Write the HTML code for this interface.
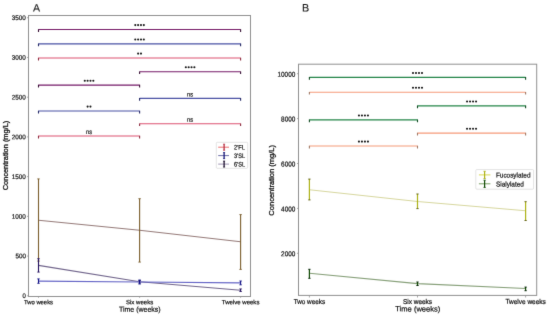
<!DOCTYPE html>
<html><head><meta charset="utf-8"><style>
html,body{margin:0;padding:0;background:#fff;}
svg{display:block;font-family:"Liberation Sans", sans-serif;will-change:transform;}
</style></head><body>
<svg width="550" height="315" viewBox="0 0 550 315">
<defs><filter id="soft" x="0" y="0" width="550" height="315" filterUnits="userSpaceOnUse" color-interpolation-filters="sRGB"><feConvolveMatrix order="3" kernelMatrix="0.01 0.07 0.01 0.07 0.68 0.07 0.01 0.07 0.01" divisor="1" edgeMode="duplicate"/></filter></defs>
<rect width="550" height="315" fill="#fff"/>
<g filter="url(#soft)">
<rect width="550" height="315" fill="#fff"/>
<rect x="28.5" y="15.5" width="222.0" height="281.0" fill="none" stroke="#909090" stroke-width="1"/>
<line x1="27.0" y1="295.8" x2="28.5" y2="295.8" stroke="#909090" stroke-width="0.8" />
<text x="25.9" y="298.10" font-size="6.6" text-anchor="end" fill="#141414" stroke="#141414" stroke-width="0.22" textLength="3.3000000000000003" lengthAdjust="spacingAndGlyphs" transform="rotate(0.05 25.9 298.10)" >0</text>
<line x1="27.0" y1="256.075" x2="28.5" y2="256.075" stroke="#909090" stroke-width="0.8" />
<text x="25.9" y="258.38" font-size="6.6" text-anchor="end" fill="#141414" stroke="#141414" stroke-width="0.22" textLength="10.5" lengthAdjust="spacingAndGlyphs" transform="rotate(0.05 25.9 258.38)" >500</text>
<line x1="27.0" y1="216.35000000000002" x2="28.5" y2="216.35000000000002" stroke="#909090" stroke-width="0.8" />
<text x="25.9" y="218.65" font-size="6.6" text-anchor="end" fill="#141414" stroke="#141414" stroke-width="0.22" textLength="14.1" lengthAdjust="spacingAndGlyphs" transform="rotate(0.05 25.9 218.65)" >1000</text>
<line x1="27.0" y1="176.625" x2="28.5" y2="176.625" stroke="#909090" stroke-width="0.8" />
<text x="25.9" y="178.93" font-size="6.6" text-anchor="end" fill="#141414" stroke="#141414" stroke-width="0.22" textLength="14.1" lengthAdjust="spacingAndGlyphs" transform="rotate(0.05 25.9 178.93)" >1500</text>
<line x1="27.0" y1="136.9" x2="28.5" y2="136.9" stroke="#909090" stroke-width="0.8" />
<text x="25.9" y="139.20" font-size="6.6" text-anchor="end" fill="#141414" stroke="#141414" stroke-width="0.22" textLength="14.1" lengthAdjust="spacingAndGlyphs" transform="rotate(0.05 25.9 139.20)" >2000</text>
<line x1="27.0" y1="97.17499999999998" x2="28.5" y2="97.17499999999998" stroke="#909090" stroke-width="0.8" />
<text x="25.9" y="99.47" font-size="6.6" text-anchor="end" fill="#141414" stroke="#141414" stroke-width="0.22" textLength="14.1" lengthAdjust="spacingAndGlyphs" transform="rotate(0.05 25.9 99.47)" >2500</text>
<line x1="27.0" y1="57.44999999999999" x2="28.5" y2="57.44999999999999" stroke="#909090" stroke-width="0.8" />
<text x="25.9" y="59.75" font-size="6.6" text-anchor="end" fill="#141414" stroke="#141414" stroke-width="0.22" textLength="14.1" lengthAdjust="spacingAndGlyphs" transform="rotate(0.05 25.9 59.75)" >3000</text>
<line x1="27.0" y1="17.724999999999966" x2="28.5" y2="17.724999999999966" stroke="#909090" stroke-width="0.8" />
<text x="25.9" y="20.02" font-size="6.6" text-anchor="end" fill="#141414" stroke="#141414" stroke-width="0.22" textLength="14.1" lengthAdjust="spacingAndGlyphs" transform="rotate(0.05 25.9 20.02)" >3500</text>
<line x1="38.5" y1="296.5" x2="38.5" y2="297.8" stroke="#909090" stroke-width="0.8" />
<text x="38.5" y="304.35" font-size="6.2" text-anchor="middle" fill="#141414" stroke="#141414" stroke-width="0.22" textLength="29" lengthAdjust="spacingAndGlyphs" transform="rotate(0.05 38.5 304.35)" >Two weeks</text>
<line x1="139.6" y1="296.5" x2="139.6" y2="297.8" stroke="#909090" stroke-width="0.8" />
<text x="139.6" y="304.35" font-size="6.2" text-anchor="middle" fill="#141414" stroke="#141414" stroke-width="0.22" textLength="27.2" lengthAdjust="spacingAndGlyphs" transform="rotate(0.05 139.6 304.35)" >Six weeks</text>
<line x1="240.6" y1="296.5" x2="240.6" y2="297.8" stroke="#909090" stroke-width="0.8" />
<text x="240.6" y="304.35" font-size="6.2" text-anchor="middle" fill="#141414" stroke="#141414" stroke-width="0.22" textLength="37.6" lengthAdjust="spacingAndGlyphs" transform="rotate(0.05 240.6 304.35)" >Twelve weeks</text>
<text x="139.8" y="311.85" font-size="7.2" text-anchor="middle" fill="#141414" stroke="#141414" stroke-width="0.22" textLength="41.6" lengthAdjust="spacingAndGlyphs" transform="rotate(0.05 139.8 311.85)" >Time (weeks)</text>
<text x="0" y="0" font-size="7.5" text-anchor="middle" fill="#141414" stroke="#141414" stroke-width="0.3" textLength="69.6" lengthAdjust="spacingAndGlyphs" transform="translate(8.3,155.5) rotate(-90)">Concentration (mg/L)</text>
<text x="36.6" y="11.40" font-size="10.6" text-anchor="middle" fill="#1a1a1a" stroke="#1a1a1a" stroke-width="0.22" transform="rotate(0.05 36.6 11.40)" stroke-opacity="0.5">A</text>
<path d="M38.5,29.5 L240.6,29.5" fill="none" stroke="#751967" stroke-width="1.15"/>
<path d="M38.5,29.2 L38.5,31.9 M240.6,29.2 L240.6,31.9" fill="none" stroke="#360f33" stroke-width="1.1"/>
<circle cx="135.28" cy="25.10" r="1.05" fill="#161616"/>
<circle cx="138.12" cy="25.10" r="1.05" fill="#161616"/>
<circle cx="140.98" cy="25.10" r="1.05" fill="#161616"/>
<circle cx="143.83" cy="25.10" r="1.05" fill="#161616"/>
<path d="M38.5,43.9 L240.6,43.9" fill="none" stroke="#4951a4" stroke-width="1.15"/>
<path d="M38.5,43.6 L38.5,46.3 M240.6,43.6 L240.6,46.3" fill="none" stroke="#222764" stroke-width="1.1"/>
<circle cx="135.28" cy="39.50" r="1.05" fill="#161616"/>
<circle cx="138.12" cy="39.50" r="1.05" fill="#161616"/>
<circle cx="140.98" cy="39.50" r="1.05" fill="#161616"/>
<circle cx="143.83" cy="39.50" r="1.05" fill="#161616"/>
<path d="M38.5,58.0 L240.6,58.0" fill="none" stroke="#dc5170" stroke-width="1.15"/>
<path d="M38.5,57.7 L38.5,60.4 M240.6,57.7 L240.6,60.4" fill="none" stroke="#8b2a3d" stroke-width="1.1"/>
<circle cx="138.12" cy="53.60" r="1.05" fill="#161616"/>
<circle cx="140.98" cy="53.60" r="1.05" fill="#161616"/>
<path d="M139.6,71.7 L240.6,71.7" fill="none" stroke="#751967" stroke-width="1.15"/>
<path d="M139.6,71.4 L139.6,74.10000000000001 M240.6,71.4 L240.6,74.10000000000001" fill="none" stroke="#360f33" stroke-width="1.1"/>
<circle cx="185.82" cy="67.30" r="1.05" fill="#161616"/>
<circle cx="188.67" cy="67.30" r="1.05" fill="#161616"/>
<circle cx="191.53" cy="67.30" r="1.05" fill="#161616"/>
<circle cx="194.38" cy="67.30" r="1.05" fill="#161616"/>
<path d="M38.5,85.1 L139.6,85.1" fill="none" stroke="#751967" stroke-width="1.15"/>
<path d="M38.5,84.8 L38.5,87.5 M139.6,84.8 L139.6,87.5" fill="none" stroke="#360f33" stroke-width="1.1"/>
<circle cx="84.77" cy="80.70" r="1.05" fill="#161616"/>
<circle cx="87.62" cy="80.70" r="1.05" fill="#161616"/>
<circle cx="90.47" cy="80.70" r="1.05" fill="#161616"/>
<circle cx="93.33" cy="80.70" r="1.05" fill="#161616"/>
<path d="M139.6,98.4 L240.6,98.4" fill="none" stroke="#4951a4" stroke-width="1.15"/>
<path d="M139.6,98.10000000000001 L139.6,100.80000000000001 M240.6,98.10000000000001 L240.6,100.80000000000001" fill="none" stroke="#222764" stroke-width="1.1"/>
<text x="190.1" y="96.40" font-size="6.4" text-anchor="middle" fill="#202020" stroke="#202020" stroke-width="0.22" textLength="6.0" lengthAdjust="spacingAndGlyphs" transform="rotate(0.05 190.1 96.40)" >ns</text>
<path d="M38.5,111.0 L139.6,111.0" fill="none" stroke="#4951a4" stroke-width="1.15"/>
<path d="M38.5,110.7 L38.5,113.4 M139.6,110.7 L139.6,113.4" fill="none" stroke="#222764" stroke-width="1.1"/>
<circle cx="87.62" cy="106.60" r="1.05" fill="#161616"/>
<circle cx="90.47" cy="106.60" r="1.05" fill="#161616"/>
<path d="M139.6,123.7 L240.6,123.7" fill="none" stroke="#dc5170" stroke-width="1.15"/>
<path d="M139.6,123.4 L139.6,126.10000000000001 M240.6,123.4 L240.6,126.10000000000001" fill="none" stroke="#8b2a3d" stroke-width="1.1"/>
<text x="190.1" y="121.70" font-size="6.4" text-anchor="middle" fill="#202020" stroke="#202020" stroke-width="0.22" textLength="6.0" lengthAdjust="spacingAndGlyphs" transform="rotate(0.05 190.1 121.70)" >ns</text>
<path d="M38.5,136.0 L139.6,136.0" fill="none" stroke="#dc5170" stroke-width="1.15"/>
<path d="M38.5,135.7 L38.5,138.4 M139.6,135.7 L139.6,138.4" fill="none" stroke="#8b2a3d" stroke-width="1.1"/>
<text x="89.05" y="134.00" font-size="6.4" text-anchor="middle" fill="#202020" stroke="#202020" stroke-width="0.22" textLength="6.0" lengthAdjust="spacingAndGlyphs" transform="rotate(0.05 89.05 134.00)" >ns</text>
<path d="M38.5,220.2 L139.6,230.3 L240.6,241.8" fill="none" stroke="#957a78" stroke-width="1.1"/>
<line x1="38.5" y1="178.9" x2="38.5" y2="261.1" stroke="#7a5d2c" stroke-width="1.1" />
<line x1="37.3" y1="178.9" x2="39.7" y2="178.9" stroke="#7a5d2c" stroke-width="0.9" />
<line x1="37.3" y1="261.1" x2="39.7" y2="261.1" stroke="#7a5d2c" stroke-width="0.9" />
<line x1="139.6" y1="198.7" x2="139.6" y2="262.1" stroke="#7a5d2c" stroke-width="1.1" />
<line x1="138.4" y1="198.7" x2="140.79999999999998" y2="198.7" stroke="#7a5d2c" stroke-width="0.9" />
<line x1="138.4" y1="262.1" x2="140.79999999999998" y2="262.1" stroke="#7a5d2c" stroke-width="0.9" />
<line x1="240.6" y1="214.6" x2="240.6" y2="269.4" stroke="#7a5d2c" stroke-width="1.1" />
<line x1="239.4" y1="214.6" x2="241.79999999999998" y2="214.6" stroke="#7a5d2c" stroke-width="0.9" />
<line x1="239.4" y1="269.4" x2="241.79999999999998" y2="269.4" stroke="#7a5d2c" stroke-width="0.9" />
<path d="M38.5,265.4 L139.6,281.7 L240.6,290.2" fill="none" stroke="#70648b" stroke-width="1.1"/>
<line x1="38.5" y1="258.7" x2="38.5" y2="272.1" stroke="#220f5d" stroke-width="1.1" />
<line x1="37.3" y1="258.7" x2="39.7" y2="258.7" stroke="#220f5d" stroke-width="0.9" />
<line x1="37.3" y1="272.1" x2="39.7" y2="272.1" stroke="#220f5d" stroke-width="0.9" />
<line x1="139.6" y1="280.5" x2="139.6" y2="283.0" stroke="#220f5d" stroke-width="1.1" />
<line x1="138.4" y1="280.5" x2="140.79999999999998" y2="280.5" stroke="#220f5d" stroke-width="0.9" />
<line x1="138.4" y1="283.0" x2="140.79999999999998" y2="283.0" stroke="#220f5d" stroke-width="0.9" />
<line x1="240.6" y1="288.9" x2="240.6" y2="291.5" stroke="#220f5d" stroke-width="1.1" />
<line x1="239.4" y1="288.9" x2="241.79999999999998" y2="288.9" stroke="#220f5d" stroke-width="0.9" />
<line x1="239.4" y1="291.5" x2="241.79999999999998" y2="291.5" stroke="#220f5d" stroke-width="0.9" />
<path d="M38.5,281.1 L139.6,282.0 L240.6,282.9" fill="none" stroke="#6464c6" stroke-width="1.1"/>
<line x1="38.5" y1="278.9" x2="38.5" y2="283.3" stroke="#0f0f84" stroke-width="1.1" />
<line x1="37.3" y1="278.9" x2="39.7" y2="278.9" stroke="#0f0f84" stroke-width="0.9" />
<line x1="37.3" y1="283.3" x2="39.7" y2="283.3" stroke="#0f0f84" stroke-width="0.9" />
<line x1="139.6" y1="280.0" x2="139.6" y2="284.0" stroke="#0f0f84" stroke-width="1.1" />
<line x1="138.4" y1="280.0" x2="140.79999999999998" y2="280.0" stroke="#0f0f84" stroke-width="0.9" />
<line x1="138.4" y1="284.0" x2="140.79999999999998" y2="284.0" stroke="#0f0f84" stroke-width="0.9" />
<line x1="240.6" y1="281.0" x2="240.6" y2="284.8" stroke="#0f0f84" stroke-width="1.1" />
<line x1="239.4" y1="281.0" x2="241.79999999999998" y2="281.0" stroke="#0f0f84" stroke-width="0.9" />
<line x1="239.4" y1="284.8" x2="241.79999999999998" y2="284.8" stroke="#0f0f84" stroke-width="0.9" />
<rect x="216.3" y="142.3" width="31.4" height="26" rx="1" fill="#fff" fill-opacity="0.8" stroke="#d0d0d0" stroke-width="0.6"/>
<line x1="218.2" y1="147.2" x2="229.0" y2="147.2" stroke="#ed6e6e" stroke-width="1.0" />
<line x1="224.1" y1="144.2" x2="224.1" y2="150.2" stroke="#b22236" stroke-width="1.2" />
<line x1="223.1" y1="144.2" x2="225.1" y2="144.2" stroke="#b22236" stroke-width="0.8" />
<line x1="223.1" y1="150.2" x2="225.1" y2="150.2" stroke="#b22236" stroke-width="0.8" />
<text x="234.0" y="149.60" font-size="6.5" text-anchor="start" fill="#141414" stroke="#141414" stroke-width="0.22" textLength="11.0" lengthAdjust="spacingAndGlyphs" transform="rotate(0.05 234.0 149.60)" >2'FL</text>
<line x1="218.2" y1="155.6" x2="229.0" y2="155.6" stroke="#7070a8" stroke-width="1.0" />
<line x1="224.1" y1="152.6" x2="224.1" y2="158.6" stroke="#070770" stroke-width="1.2" />
<line x1="223.1" y1="152.6" x2="225.1" y2="152.6" stroke="#070770" stroke-width="0.8" />
<line x1="223.1" y1="158.6" x2="225.1" y2="158.6" stroke="#070770" stroke-width="0.8" />
<text x="234.0" y="158.00" font-size="6.5" text-anchor="start" fill="#141414" stroke="#141414" stroke-width="0.22" textLength="11.0" lengthAdjust="spacingAndGlyphs" transform="rotate(0.05 234.0 158.00)" >3'SL</text>
<line x1="218.2" y1="164.1" x2="229.0" y2="164.1" stroke="#9f95b2" stroke-width="1.0" />
<line x1="224.1" y1="161.1" x2="224.1" y2="167.1" stroke="#0f0022" stroke-width="1.2" />
<line x1="223.1" y1="161.1" x2="225.1" y2="161.1" stroke="#0f0022" stroke-width="0.8" />
<line x1="223.1" y1="167.1" x2="225.1" y2="167.1" stroke="#0f0022" stroke-width="0.8" />
<text x="234.0" y="166.50" font-size="6.5" text-anchor="start" fill="#141414" stroke="#141414" stroke-width="0.22" textLength="11.0" lengthAdjust="spacingAndGlyphs" transform="rotate(0.05 234.0 166.50)" >6'SL</text>
<rect x="298.5" y="64.2" width="238.20000000000005" height="231.2" fill="none" stroke="#909090" stroke-width="1"/>
<line x1="297.0" y1="253.29999999999998" x2="298.5" y2="253.29999999999998" stroke="#909090" stroke-width="0.8" />
<text x="295.4" y="256.30" font-size="7.0" text-anchor="end" fill="#141414" stroke="#141414" stroke-width="0.22" textLength="14.299999999999999" lengthAdjust="spacingAndGlyphs" transform="rotate(0.05 295.4 256.30)" >2000</text>
<line x1="297.0" y1="208.39999999999998" x2="298.5" y2="208.39999999999998" stroke="#909090" stroke-width="0.8" />
<text x="295.4" y="211.40" font-size="7.0" text-anchor="end" fill="#141414" stroke="#141414" stroke-width="0.22" textLength="14.299999999999999" lengthAdjust="spacingAndGlyphs" transform="rotate(0.05 295.4 211.40)" >4000</text>
<line x1="297.0" y1="163.49999999999997" x2="298.5" y2="163.49999999999997" stroke="#909090" stroke-width="0.8" />
<text x="295.4" y="166.50" font-size="7.0" text-anchor="end" fill="#141414" stroke="#141414" stroke-width="0.22" textLength="14.299999999999999" lengthAdjust="spacingAndGlyphs" transform="rotate(0.05 295.4 166.50)" >6000</text>
<line x1="297.0" y1="118.59999999999997" x2="298.5" y2="118.59999999999997" stroke="#909090" stroke-width="0.8" />
<text x="295.4" y="121.60" font-size="7.0" text-anchor="end" fill="#141414" stroke="#141414" stroke-width="0.22" textLength="14.299999999999999" lengthAdjust="spacingAndGlyphs" transform="rotate(0.05 295.4 121.60)" >8000</text>
<line x1="297.0" y1="73.69999999999999" x2="298.5" y2="73.69999999999999" stroke="#909090" stroke-width="0.8" />
<text x="295.4" y="76.70" font-size="7.0" text-anchor="end" fill="#141414" stroke="#141414" stroke-width="0.22" textLength="17.95" lengthAdjust="spacingAndGlyphs" transform="rotate(0.05 295.4 76.70)" >10000</text>
<line x1="309.4" y1="295.5" x2="309.4" y2="297.5" stroke="#909090" stroke-width="0.8" />
<text x="309.4" y="303.90" font-size="7.0" text-anchor="middle" fill="#141414" stroke="#141414" stroke-width="0.22" textLength="31.5" lengthAdjust="spacingAndGlyphs" transform="rotate(0.05 309.4 303.90)" >Two weeks</text>
<line x1="417.5" y1="295.5" x2="417.5" y2="297.5" stroke="#909090" stroke-width="0.8" />
<text x="417.5" y="303.90" font-size="7.0" text-anchor="middle" fill="#141414" stroke="#141414" stroke-width="0.22" textLength="29.1" lengthAdjust="spacingAndGlyphs" transform="rotate(0.05 417.5 303.90)" >Six weeks</text>
<line x1="525.6" y1="295.5" x2="525.6" y2="297.5" stroke="#909090" stroke-width="0.8" />
<text x="525.6" y="303.90" font-size="7.0" text-anchor="middle" fill="#141414" stroke="#141414" stroke-width="0.22" textLength="40.4" lengthAdjust="spacingAndGlyphs" transform="rotate(0.05 525.6 303.90)" >Twelve weeks</text>
<text x="417.8" y="311.40" font-size="7.6" text-anchor="middle" fill="#141414" stroke="#141414" stroke-width="0.22" textLength="45" lengthAdjust="spacingAndGlyphs" transform="rotate(0.05 417.8 311.40)" >Time (weeks)</text>
<text x="0" y="0" font-size="7.6" text-anchor="middle" fill="#141414" stroke="#141414" stroke-width="0.3" textLength="70.7" lengthAdjust="spacingAndGlyphs" transform="translate(274.2,180.3) rotate(-90)">Concentration (mg/L)</text>
<text x="305.7" y="11.55" font-size="10.8" text-anchor="middle" fill="#1a1a1a" stroke="#1a1a1a" stroke-width="0.22" transform="rotate(0.05 305.7 11.55)" stroke-opacity="0.5">B</text>
<path d="M309.4,77.4 L525.6,77.4" fill="none" stroke="#228447" stroke-width="1.15"/>
<path d="M309.4,77.10000000000001 L309.4,79.80000000000001 M525.6,77.10000000000001 L525.6,79.80000000000001" fill="none" stroke="#0f4920" stroke-width="1.1"/>
<circle cx="413.00" cy="73.00" r="1.05" fill="#161616"/>
<circle cx="416.00" cy="73.00" r="1.05" fill="#161616"/>
<circle cx="419.00" cy="73.00" r="1.05" fill="#161616"/>
<circle cx="422.00" cy="73.00" r="1.05" fill="#161616"/>
<path d="M309.4,92.2 L525.6,92.2" fill="none" stroke="#f69a78" stroke-width="1.15"/>
<path d="M309.4,91.9 L309.4,94.60000000000001 M525.6,91.9 L525.6,94.60000000000001" fill="none" stroke="#9f7864" stroke-width="1.1"/>
<circle cx="413.00" cy="87.80" r="1.05" fill="#161616"/>
<circle cx="416.00" cy="87.80" r="1.05" fill="#161616"/>
<circle cx="419.00" cy="87.80" r="1.05" fill="#161616"/>
<circle cx="422.00" cy="87.80" r="1.05" fill="#161616"/>
<path d="M417.5,105.9 L525.6,105.9" fill="none" stroke="#228447" stroke-width="1.15"/>
<path d="M417.5,105.60000000000001 L417.5,108.30000000000001 M525.6,105.60000000000001 L525.6,108.30000000000001" fill="none" stroke="#0f4920" stroke-width="1.1"/>
<circle cx="467.05" cy="101.50" r="1.05" fill="#161616"/>
<circle cx="470.05" cy="101.50" r="1.05" fill="#161616"/>
<circle cx="473.05" cy="101.50" r="1.05" fill="#161616"/>
<circle cx="476.05" cy="101.50" r="1.05" fill="#161616"/>
<path d="M309.4,119.9 L417.5,119.9" fill="none" stroke="#228447" stroke-width="1.15"/>
<path d="M309.4,119.60000000000001 L309.4,122.30000000000001 M417.5,119.60000000000001 L417.5,122.30000000000001" fill="none" stroke="#0f4920" stroke-width="1.1"/>
<circle cx="358.95" cy="115.50" r="1.05" fill="#161616"/>
<circle cx="361.95" cy="115.50" r="1.05" fill="#161616"/>
<circle cx="364.95" cy="115.50" r="1.05" fill="#161616"/>
<circle cx="367.95" cy="115.50" r="1.05" fill="#161616"/>
<path d="M417.5,133.1 L525.6,133.1" fill="none" stroke="#f69a78" stroke-width="1.15"/>
<path d="M417.5,132.79999999999998 L417.5,135.5 M525.6,132.79999999999998 L525.6,135.5" fill="none" stroke="#9f7864" stroke-width="1.1"/>
<circle cx="467.05" cy="128.70" r="1.05" fill="#161616"/>
<circle cx="470.05" cy="128.70" r="1.05" fill="#161616"/>
<circle cx="473.05" cy="128.70" r="1.05" fill="#161616"/>
<circle cx="476.05" cy="128.70" r="1.05" fill="#161616"/>
<path d="M309.4,146.0 L417.5,146.0" fill="none" stroke="#f69a78" stroke-width="1.15"/>
<path d="M309.4,145.7 L309.4,148.4 M417.5,145.7 L417.5,148.4" fill="none" stroke="#9f7864" stroke-width="1.1"/>
<circle cx="358.95" cy="141.60" r="1.05" fill="#161616"/>
<circle cx="361.95" cy="141.60" r="1.05" fill="#161616"/>
<circle cx="364.95" cy="141.60" r="1.05" fill="#161616"/>
<circle cx="367.95" cy="141.60" r="1.05" fill="#161616"/>
<path d="M309.4,189.8 L417.5,201.5 L525.6,210.7" fill="none" stroke="#d7d79f" stroke-width="1.1"/>
<line x1="309.4" y1="179.1" x2="309.4" y2="199.9" stroke="#adb216" stroke-width="1.2" />
<line x1="308.29999999999995" y1="179.1" x2="310.5" y2="179.1" stroke="#646416" stroke-width="1.0" />
<line x1="308.29999999999995" y1="199.9" x2="310.5" y2="199.9" stroke="#646416" stroke-width="1.0" />
<line x1="417.5" y1="194.0" x2="417.5" y2="208.6" stroke="#adb216" stroke-width="1.2" />
<line x1="416.4" y1="194.0" x2="418.6" y2="194.0" stroke="#646416" stroke-width="1.0" />
<line x1="416.4" y1="208.6" x2="418.6" y2="208.6" stroke="#646416" stroke-width="1.0" />
<line x1="525.6" y1="201.7" x2="525.6" y2="220.5" stroke="#adb216" stroke-width="1.2" />
<line x1="524.5" y1="201.7" x2="526.7" y2="201.7" stroke="#646416" stroke-width="1.0" />
<line x1="524.5" y1="220.5" x2="526.7" y2="220.5" stroke="#646416" stroke-width="1.0" />
<path d="M309.4,273.3 L417.5,283.6 L525.6,288.5" fill="none" stroke="#869f78" stroke-width="1.1"/>
<line x1="309.4" y1="269.3" x2="309.4" y2="278.3" stroke="#0f4903" stroke-width="1.2" />
<line x1="308.29999999999995" y1="269.3" x2="310.5" y2="269.3" stroke="#002200" stroke-width="1.0" />
<line x1="308.29999999999995" y1="278.3" x2="310.5" y2="278.3" stroke="#002200" stroke-width="1.0" />
<line x1="417.5" y1="282.0" x2="417.5" y2="285.5" stroke="#0f4903" stroke-width="1.2" />
<line x1="416.4" y1="282.0" x2="418.6" y2="282.0" stroke="#002200" stroke-width="1.0" />
<line x1="416.4" y1="285.5" x2="418.6" y2="285.5" stroke="#002200" stroke-width="1.0" />
<line x1="525.6" y1="287.1" x2="525.6" y2="290.7" stroke="#0f4903" stroke-width="1.2" />
<line x1="524.5" y1="287.1" x2="526.7" y2="287.1" stroke="#002200" stroke-width="1.0" />
<line x1="524.5" y1="290.7" x2="526.7" y2="290.7" stroke="#002200" stroke-width="1.0" />
<rect x="475.8" y="169.6" width="57.8" height="19.6" rx="1" fill="#fff" fill-opacity="0.8" stroke="#d0d0d0" stroke-width="0.6"/>
<line x1="478.9" y1="174.9" x2="490.4" y2="174.9" stroke="#d9d951" stroke-width="1.0" />
<line x1="484.6" y1="171.3" x2="484.6" y2="178.5" stroke="#adb216" stroke-width="1.2" />
<line x1="483.5" y1="171.3" x2="485.7" y2="171.3" stroke="#adb216" stroke-width="0.9" />
<line x1="483.5" y1="178.5" x2="485.7" y2="178.5" stroke="#adb216" stroke-width="0.9" />
<text x="495.9" y="177.60" font-size="7.0" text-anchor="start" fill="#141414" stroke="#141414" stroke-width="0.22" textLength="34.6" lengthAdjust="spacingAndGlyphs" transform="rotate(0.05 495.9 177.60)" >Fucosylated</text>
<line x1="478.9" y1="183.8" x2="490.4" y2="183.8" stroke="#789f64" stroke-width="1.0" />
<line x1="484.6" y1="180.20000000000002" x2="484.6" y2="187.4" stroke="#0f4903" stroke-width="1.2" />
<line x1="483.5" y1="180.20000000000002" x2="485.7" y2="180.20000000000002" stroke="#0f4903" stroke-width="0.9" />
<line x1="483.5" y1="187.4" x2="485.7" y2="187.4" stroke="#0f4903" stroke-width="0.9" />
<text x="495.9" y="186.50" font-size="7.0" text-anchor="start" fill="#141414" stroke="#141414" stroke-width="0.22" textLength="28.0" lengthAdjust="spacingAndGlyphs" transform="rotate(0.05 495.9 186.50)" >Sialylated</text>
</g>
</svg>
</body></html>
